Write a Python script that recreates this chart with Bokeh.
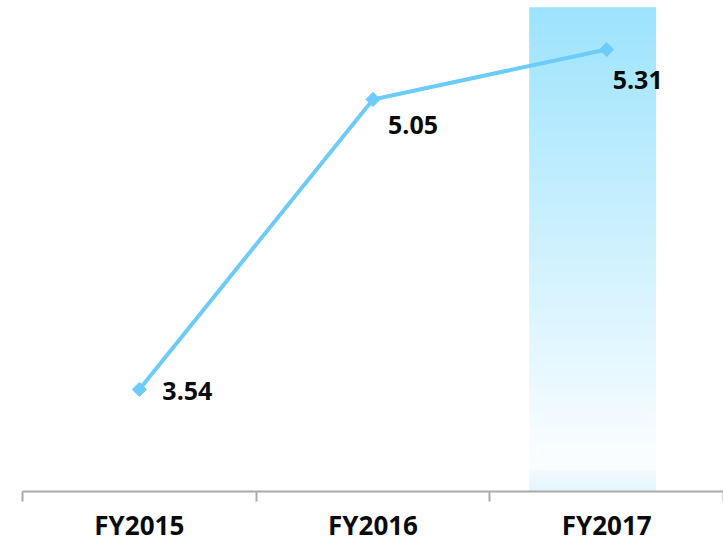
import math
from bokeh.plotting import figure
from bokeh.models import Range1d, FixedTicker, ColumnDataSource
from bokeh.core.properties import value
from bokeh.embed import file_html
from bokeh.resources import INLINE

categories = ["FY2015", "FY2016", "FY2017"]
values = [3.54, 5.05, 5.31]
label_texts = ["3.54", "5.05", "5.31"]
highlight = "FY2017"

LINE_COLOR = "#6ccbf9"
FONT = "Open Sans"

y_min, y_max = 3.009, 5.565
band_top = 5.53

p = figure(width=723, height=545, output_backend="svg", toolbar_location=None,
           x_range=Range1d(0, len(categories)), y_range=Range1d(y_min, y_max))
p.min_border_left = 22
p.min_border_right = 0
p.min_border_top = 0
p.min_border_bottom = 54
p.outline_line_color = None
p.grid.visible = False
p.yaxis.visible = False
p.background_fill_color = "white"
p.border_fill_color = "white"

xs = [i + 0.5 for i in range(len(categories))]


def mix(c0, c1, f):
    return "#%02x%02x%02x" % tuple(int(round(a + (b - a) * f)) for a, b in zip(c0, c1))


# highlight gradient band behind the highlighted category
hi = categories.index(highlight)
band_center = hi + 0.5 - 0.06
band_width = 0.543
grad_bottom = 3.118
n = 80
top_rgb = (156, 227, 253)
white = (252, 254, 255)
bottoms, tops, colors = [], [], []
for k in range(n):
    t0 = band_top - (band_top - grad_bottom) * k / n
    t1 = band_top - (band_top - grad_bottom) * (k + 1) / n
    bottoms.append(t1)
    tops.append(t0 + (0.008 if k > 0 else 0))
    colors.append(mix(top_rgb, white, (k + 0.5) / n))
m = 8
for k in range(m):
    t0 = grad_bottom - (grad_bottom - y_min) * k / m
    t1 = grad_bottom - (grad_bottom - y_min) * (k + 1) / m
    bottoms.append(t1)
    tops.append(t0 + 0.004)
    colors.append(mix((242, 250, 254), (228, 244, 253), (k + 0.5) / m))
p.vbar(x=[band_center] * len(tops), width=band_width, bottom=bottoms, top=tops,
       fill_color=colors, line_color=None)

src = ColumnDataSource(dict(x=xs, y=values, t=label_texts,
                            xo=[23, 15, 6], yo=[2, 26, 31]))
p.line("x", "y", source=src, line_color=LINE_COLOR, line_width=4)
p.scatter("x", "y", source=src, marker="square", size=10, angle=math.pi / 4,
          fill_color=LINE_COLOR, line_color=LINE_COLOR)
p.text("x", "y", text="t", source=src, x_offset="xo", y_offset="yo",
       text_font=value(FONT), text_font_style="bold", text_font_size="25px",
       text_color="#0a0a0a", text_align="left", text_baseline="middle")

ax = p.xaxis[0]
ax.ticker = FixedTicker(ticks=xs, minor_ticks=list(range(len(categories) + 1)))
ax.major_label_overrides = {x: c for x, c in zip(xs, categories)}
ax.major_tick_line_color = None
ax.major_tick_out = 0
ax.major_tick_in = 0
ax.minor_tick_out = 10
ax.minor_tick_in = 0
ax.minor_tick_line_color = "#aaaaaa"
ax.minor_tick_line_width = 2
ax.axis_line_color = "#aaaaaa"
ax.axis_line_width = 2
ax.major_label_text_font = FONT
ax.major_label_text_font_style = "bold"
ax.major_label_text_font_size = "26px"
ax.major_label_text_color = "#0a0a0a"
ax.major_label_standoff = 5

open("out.html", "w").write(file_html(p, INLINE))
